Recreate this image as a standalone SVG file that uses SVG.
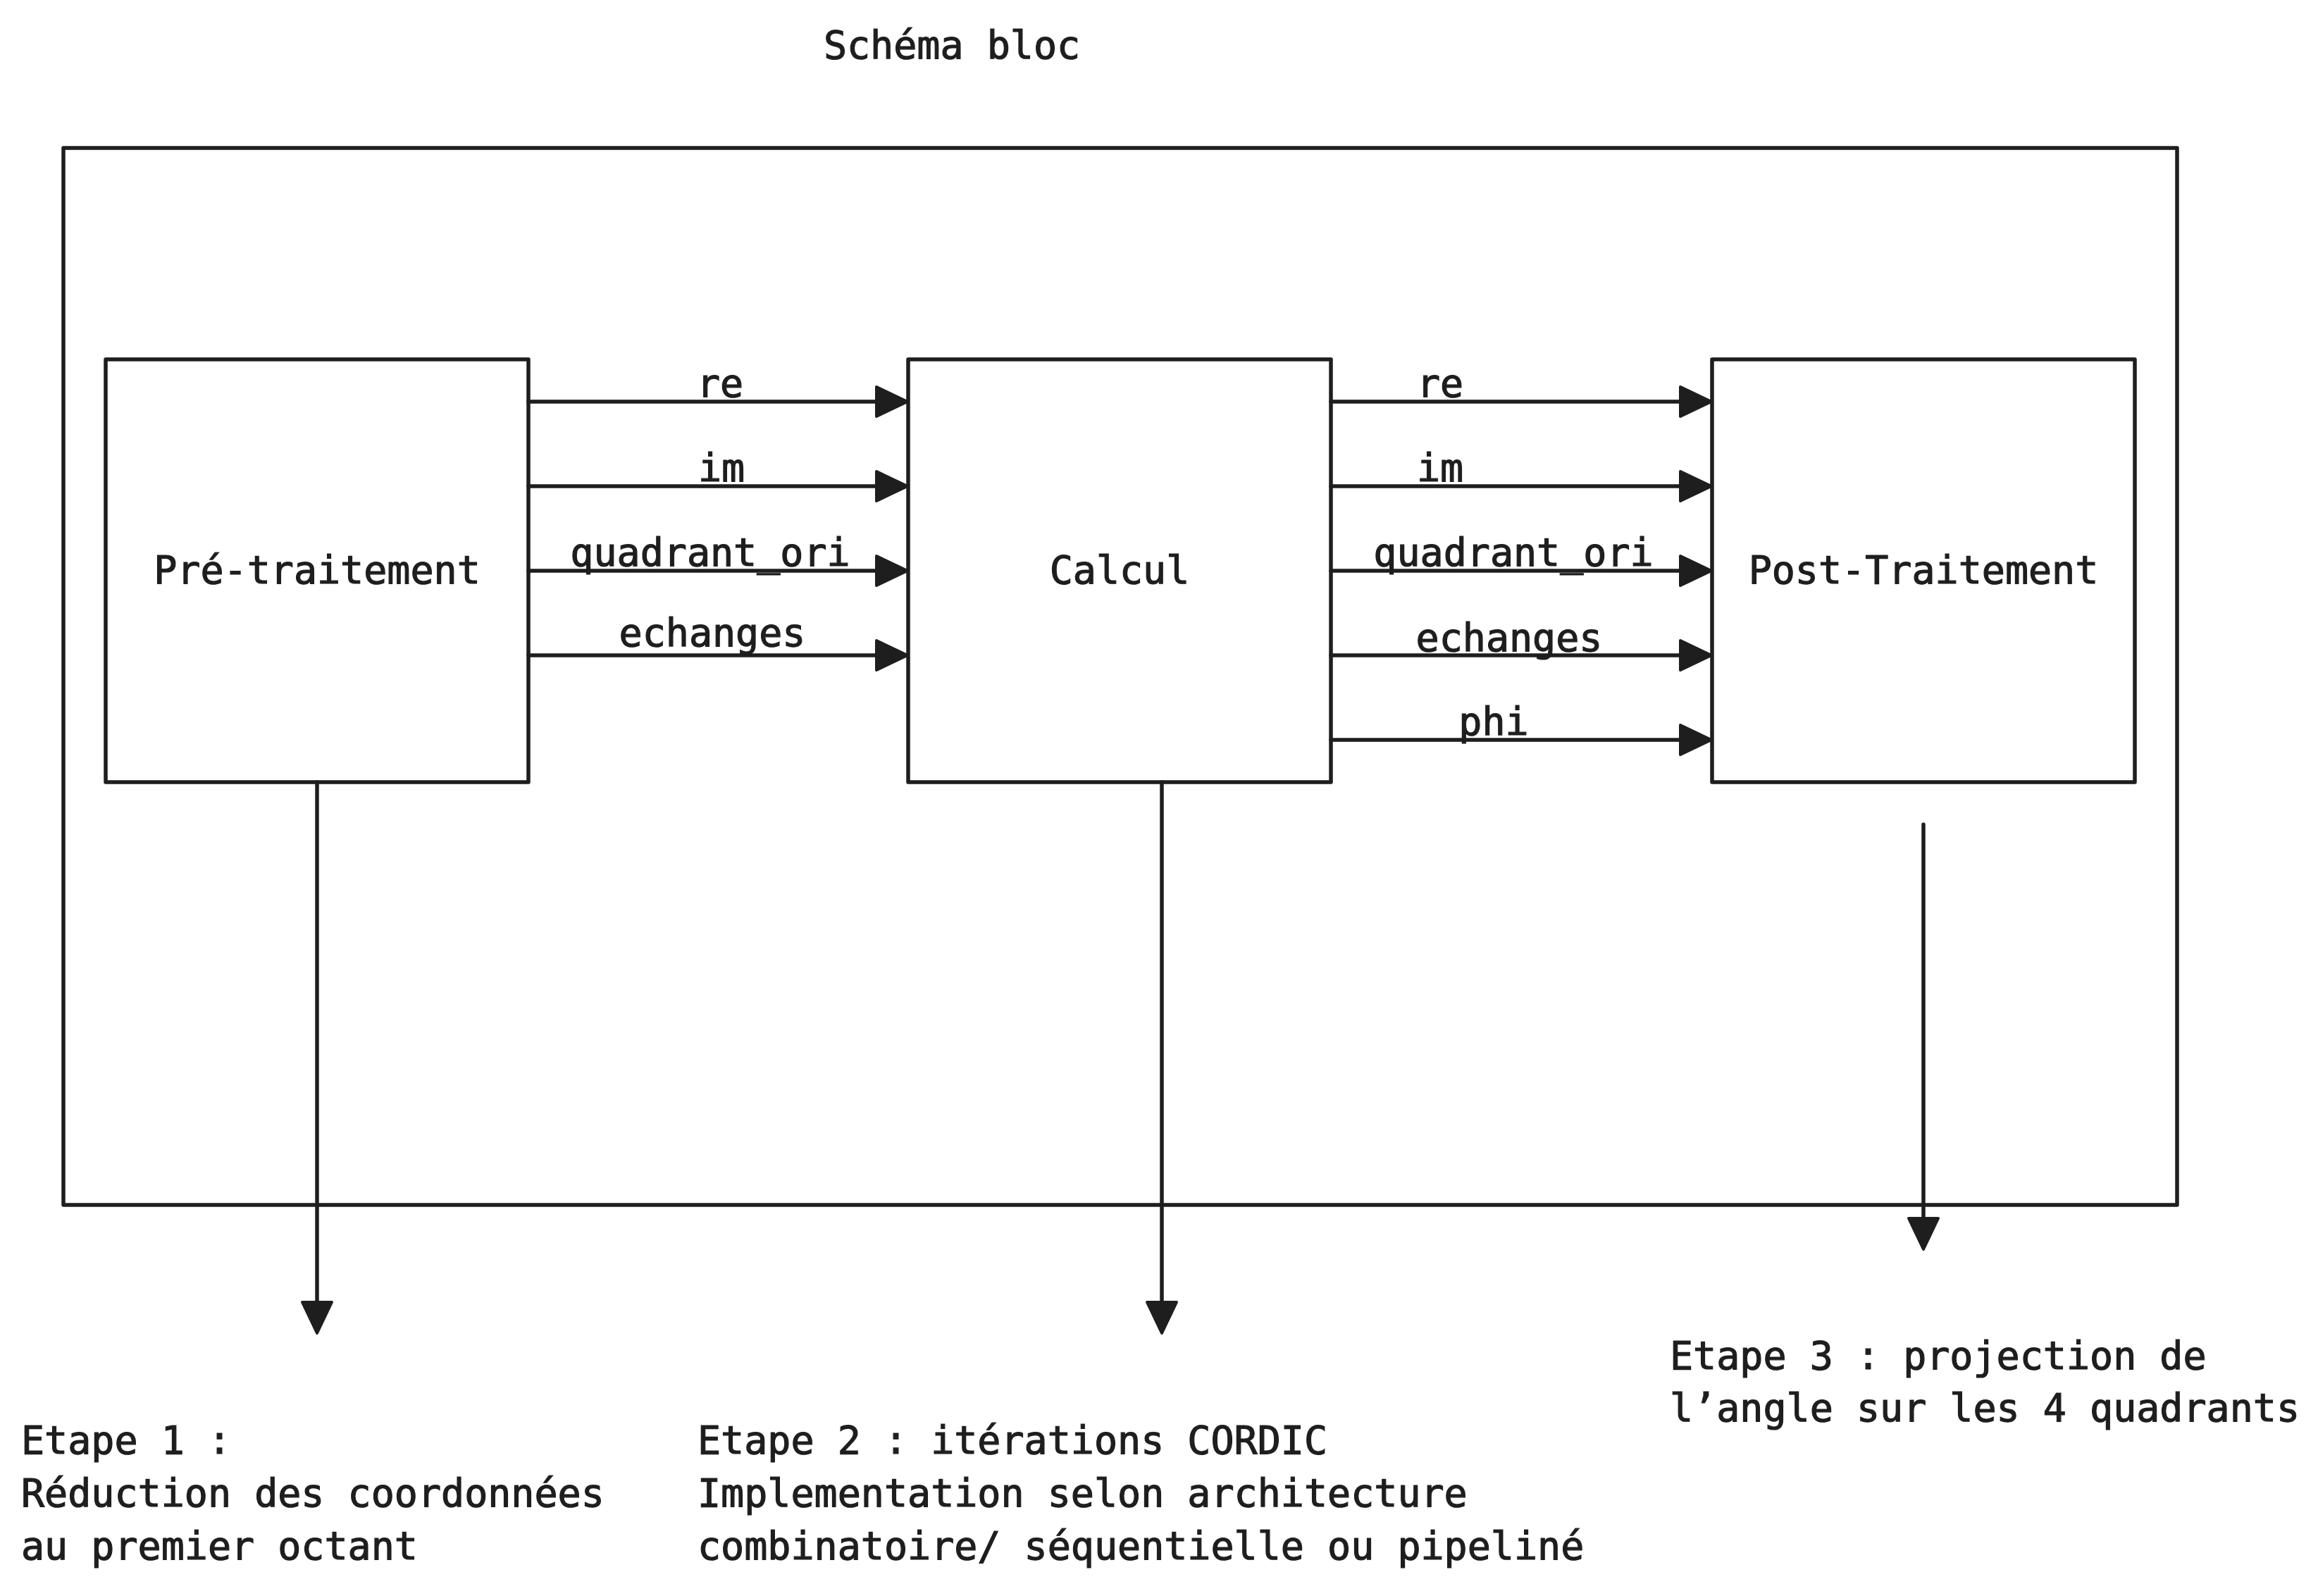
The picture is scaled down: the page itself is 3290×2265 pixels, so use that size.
<svg xmlns="http://www.w3.org/2000/svg" width="3290" height="2265" viewBox="0 0 3290 2265">
<style>
.box{fill:none;stroke:#1e1e1e;stroke-width:5.5;stroke-linejoin:round}
.ln{fill:none;stroke:#1e1e1e;stroke-width:5.5;stroke-linecap:round}
text{font-family:"DejaVu Sans Mono","Liberation Mono",monospace;font-size:55px;fill:#1e1e1e;stroke:#1e1e1e;stroke-width:1.2}
.c{text-anchor:middle}
</style>
<defs>
<marker id="ah" viewBox="-3 -3 50 48" refX="0" refY="21" markerWidth="50" markerHeight="48" markerUnits="userSpaceOnUse" orient="auto">
<path d="M0,0 L44,21 L0,42 Z" fill="#1e1e1e" stroke="#1e1e1e" stroke-width="4" stroke-linejoin="round"/>
</marker>
</defs>
<rect width="3290" height="2265" fill="#ffffff"/>
<text id="title" x="1351" y="83" class="c">Schéma bloc</text>
<g id="outer"><rect class="box" x="90" y="210" width="3000" height="1500"/></g>
<g id="pre"><rect class="box" x="150" y="510" width="600" height="600"/><text x="450" y="828" class="c">Pré-traitement</text></g>
<g id="calcul"><rect class="box" x="1289" y="510" width="600" height="600"/><text x="1589" y="828" class="c">Calcul</text></g>
<g id="post"><rect class="box" x="2430" y="510" width="600" height="600"/><text x="2730" y="828" class="c">Post-Traitement</text></g>
<g id="connectors">
<line class="ln" x1="750" y1="570" x2="1244" y2="570" marker-end="url(#ah)"/>
<line class="ln" x1="750" y1="690" x2="1244" y2="690" marker-end="url(#ah)"/>
<line class="ln" x1="750" y1="810" x2="1244" y2="810" marker-end="url(#ah)"/>
<line class="ln" x1="750" y1="930" x2="1244" y2="930" marker-end="url(#ah)"/>
<line class="ln" x1="1889" y1="570" x2="2385" y2="570" marker-end="url(#ah)"/>
<line class="ln" x1="1889" y1="690" x2="2385" y2="690" marker-end="url(#ah)"/>
<line class="ln" x1="1889" y1="810" x2="2385" y2="810" marker-end="url(#ah)"/>
<line class="ln" x1="1889" y1="930" x2="2385" y2="930" marker-end="url(#ah)"/>
<line class="ln" x1="1889" y1="1050" x2="2385" y2="1050" marker-end="url(#ah)"/>
<line class="ln" x1="450" y1="1110" x2="450" y2="1848" marker-end="url(#ah)"/>
<line class="ln" x1="1649" y1="1110" x2="1649" y2="1848" marker-end="url(#ah)"/>
<line class="ln" x1="2730" y1="1170" x2="2730" y2="1729" marker-end="url(#ah)"/>
<text x="1022" y="563" class="c">re</text>
<text x="1024" y="683" class="c">im</text>
<text x="1008" y="803" class="c">quadrant_ori</text>
<text x="1011" y="917" class="c">echanges</text>
<text x="2044" y="563" class="c">re</text>
<text x="2044" y="683" class="c">im</text>
<text x="2148" y="803" class="c">quadrant_ori</text>
<text x="2142" y="924" class="c">echanges</text>
<text x="2120" y="1043" class="c">phi</text>
</g>
<g id="etape1"><text x="30" y="2063">Etape 1 :</text><text x="30" y="2138">Réduction des coordonnées</text><text x="30" y="2213">au premier octant</text></g>
<g id="etape2"><text x="990" y="2063">Etape 2 : itérations CORDIC</text><text x="990" y="2138">Implementation selon architecture</text><text x="990" y="2213">combinatoire/ séquentielle ou pipeliné</text></g>
<g id="etape3"><text x="2370" y="1943">Etape 3 : projection de</text><text x="2370" y="2017">l’angle sur les 4 quadrants</text></g>
</svg>
